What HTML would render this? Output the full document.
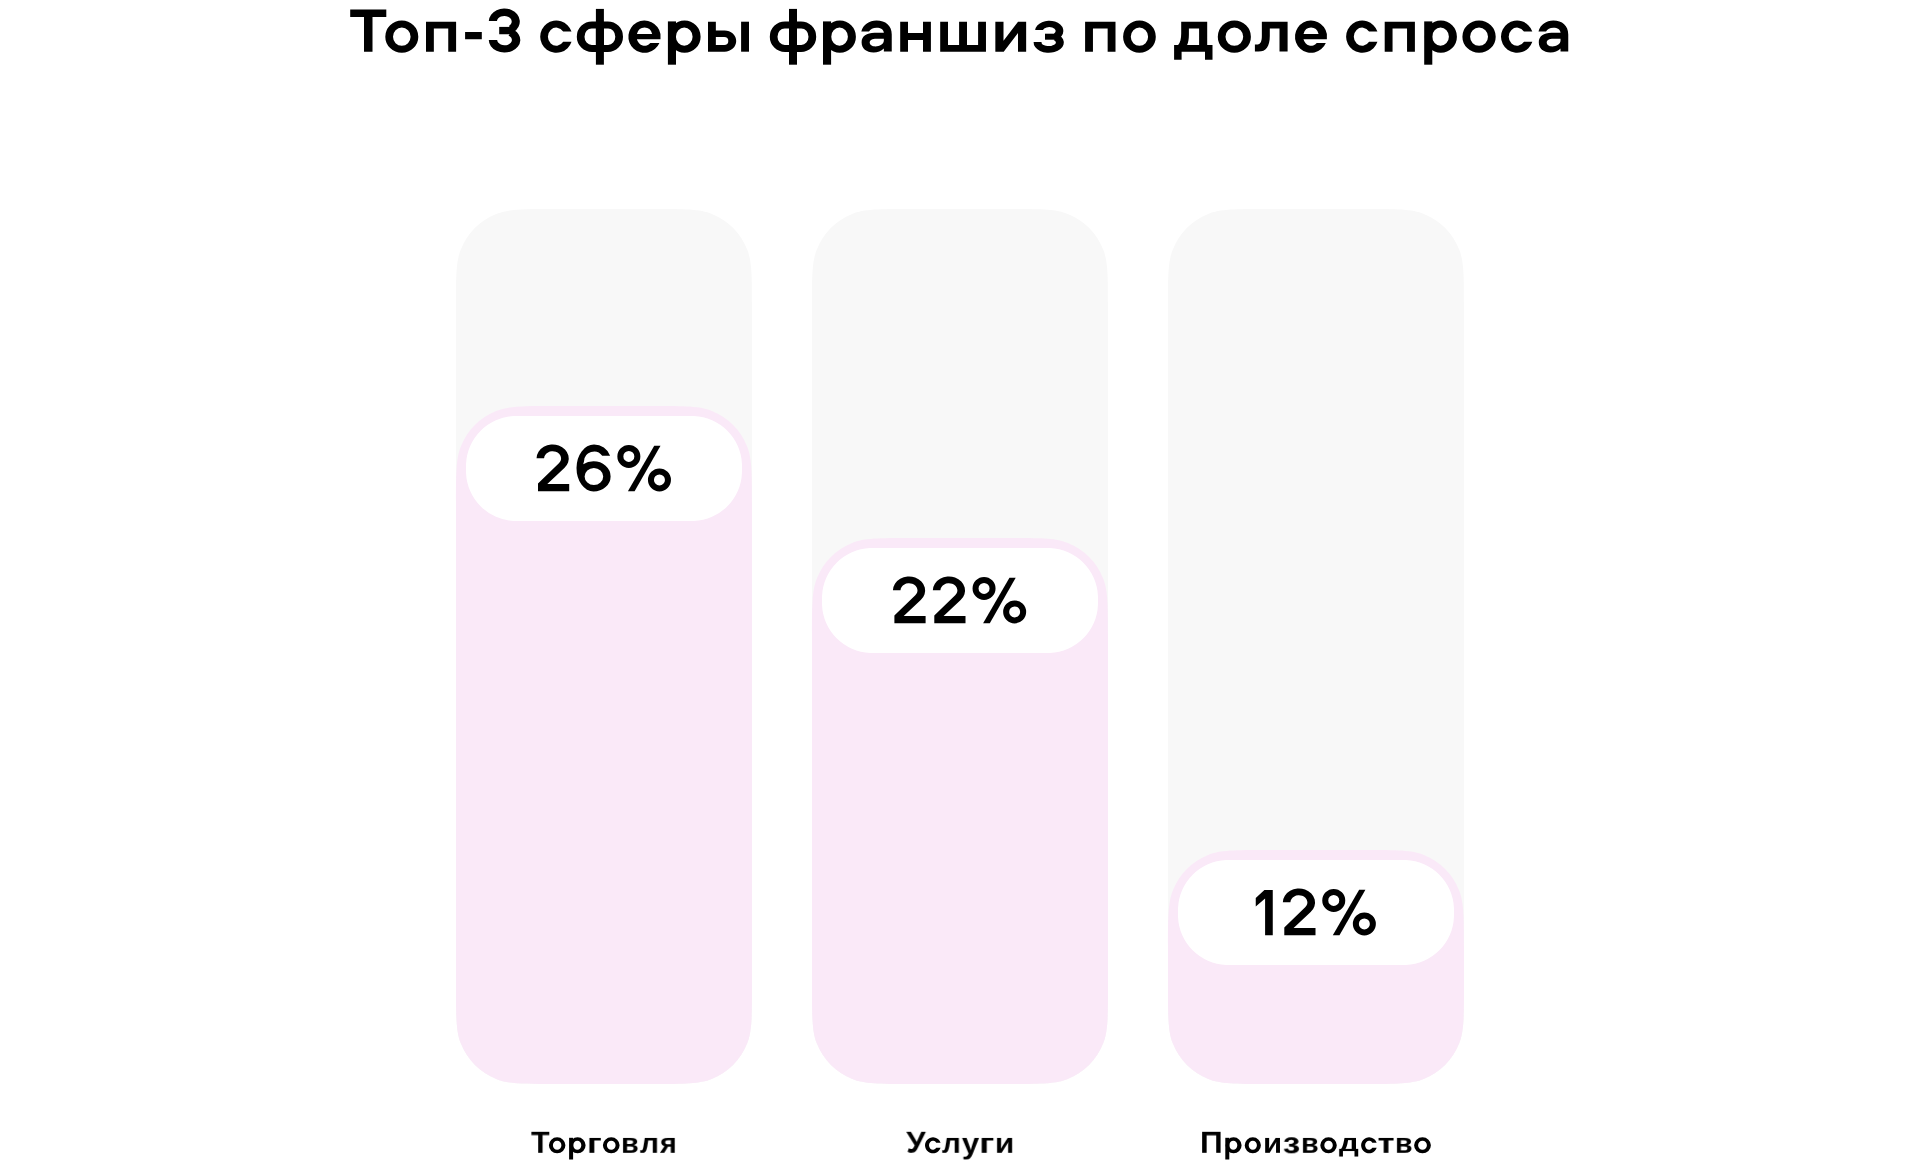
<!DOCTYPE html>
<html lang="ru"><head><meta charset="utf-8"><title>Топ-3 сферы франшиз по доле спроса</title>
<style>
html,body{margin:0;padding:0;background:#fff;}
body{width:1920px;height:1169px;position:relative;overflow:hidden;font-family:"Liberation Sans",sans-serif;color:#000;}
svg{position:absolute;left:0;top:0;}
span{position:absolute;left:0;top:0;white-space:pre;transform-origin:0 0;will-change:transform;font-weight:700;}
.t{font-size:62px;line-height:62px;-webkit-text-stroke:0.7px #fff;}
.l{font-size:30.5px;line-height:30.5px;}
.sr{position:absolute;left:-9999px;top:0;}
</style></head><body>
<svg width="1920" height="1169" viewBox="0 0 1920 1169">
<path d="M654.5 209c30.29 0 45.43 0 57.37 4.95a65 65 0 0 1 35.18 35.18c4.95 11.95 4.95 27.09 4.95 57.37L752 986.5c0 30.29 0 45.43 -4.95 57.37a65 65 0 0 1 -35.18 35.18c-11.95 4.95 -27.09 4.95 -57.37 4.95L553.5 1084c-30.29 0 -45.43 0 -57.37 -4.95a65 65 0 0 1 -35.18 -35.18c-4.95 -11.95 -4.95 -27.09 -4.95 -57.37L456 306.5c0 -30.29 0 -45.43 4.95 -57.37a65 65 0 0 1 35.18 -35.18c11.95 -4.95 27.09 -4.95 57.37 -4.95Z" fill="#f8f8f8"/>
<path d="M654.5 406c30.29 0 45.43 0 57.37 4.95a65 65 0 0 1 35.18 35.18c4.95 11.95 4.95 27.09 4.95 57.37L752 986.5c0 30.29 0 45.43 -4.95 57.37a65 65 0 0 1 -35.18 35.18c-11.95 4.95 -27.09 4.95 -57.37 4.95L553.5 1084c-30.29 0 -45.43 0 -57.37 -4.95a65 65 0 0 1 -35.18 -35.18c-4.95 -11.95 -4.95 -27.09 -4.95 -57.37L456 503.5c0 -30.29 0 -45.43 4.95 -57.37a65 65 0 0 1 35.18 -35.18c11.95 -4.95 27.09 -4.95 57.37 -4.95Z" fill="#fae9f8"/>
<path d="M689.5 416c2.32 0 3.48 0 4.46 0.04a50 50 0 0 1 48 48c0.04 0.98 0.04 2.14 0.04 4.46L742 468.5c0 2.32 0 3.48 -0.04 4.46a50 50 0 0 1 -48 48c-0.98 0.04 -2.14 0.04 -4.46 0.04L518.5 521c-2.32 0 -3.48 0 -4.46 -0.04a50 50 0 0 1 -48 -48c-0.04 -0.98 -0.04 -2.14 -0.04 -4.46L466 468.5c0 -2.32 0 -3.48 0.04 -4.46a50 50 0 0 1 48 -48c0.98 -0.04 2.14 -0.04 4.46 -0.04Z" fill="#fff"/>
<path d="M1010.5 209c30.29 0 45.43 0 57.37 4.95a65 65 0 0 1 35.18 35.18c4.95 11.95 4.95 27.09 4.95 57.37L1108 986.5c0 30.29 0 45.43 -4.95 57.37a65 65 0 0 1 -35.18 35.18c-11.95 4.95 -27.09 4.95 -57.37 4.95L909.5 1084c-30.29 0 -45.43 0 -57.37 -4.95a65 65 0 0 1 -35.18 -35.18c-4.95 -11.95 -4.95 -27.09 -4.95 -57.37L812 306.5c0 -30.29 0 -45.43 4.95 -57.37a65 65 0 0 1 35.18 -35.18c11.95 -4.95 27.09 -4.95 57.37 -4.95Z" fill="#f8f8f8"/>
<path d="M1010.5 538c30.29 0 45.43 0 57.37 4.95a65 65 0 0 1 35.18 35.18c4.95 11.95 4.95 27.09 4.95 57.37L1108 986.5c0 30.29 0 45.43 -4.95 57.37a65 65 0 0 1 -35.18 35.18c-11.95 4.95 -27.09 4.95 -57.37 4.95L909.5 1084c-30.29 0 -45.43 0 -57.37 -4.95a65 65 0 0 1 -35.18 -35.18c-4.95 -11.95 -4.95 -27.09 -4.95 -57.37L812 635.5c0 -30.29 0 -45.43 4.95 -57.37a65 65 0 0 1 35.18 -35.18c11.95 -4.95 27.09 -4.95 57.37 -4.95Z" fill="#fae9f8"/>
<path d="M1045.5 548c2.32 0 3.48 0 4.46 0.04a50 50 0 0 1 48 48c0.04 0.98 0.04 2.14 0.04 4.46L1098 600.5c0 2.32 0 3.48 -0.04 4.46a50 50 0 0 1 -48 48c-0.98 0.04 -2.14 0.04 -4.46 0.04L874.5 653c-2.32 0 -3.48 0 -4.46 -0.04a50 50 0 0 1 -48 -48c-0.04 -0.98 -0.04 -2.14 -0.04 -4.46L822 600.5c0 -2.32 0 -3.48 0.04 -4.46a50 50 0 0 1 48 -48c0.98 -0.04 2.14 -0.04 4.46 -0.04Z" fill="#fff"/>
<path d="M1366.5 209c30.29 0 45.43 0 57.37 4.95a65 65 0 0 1 35.18 35.18c4.95 11.95 4.95 27.09 4.95 57.37L1464 986.5c0 30.29 0 45.43 -4.95 57.37a65 65 0 0 1 -35.18 35.18c-11.95 4.95 -27.09 4.95 -57.37 4.95L1265.5 1084c-30.29 0 -45.43 0 -57.37 -4.95a65 65 0 0 1 -35.18 -35.18c-4.95 -11.95 -4.95 -27.09 -4.95 -57.37L1168 306.5c0 -30.29 0 -45.43 4.95 -57.37a65 65 0 0 1 35.18 -35.18c11.95 -4.95 27.09 -4.95 57.37 -4.95Z" fill="#f8f8f8"/>
<path d="M1366.5 850c30.29 0 45.43 0 57.37 4.95a65 65 0 0 1 35.18 35.18c4.95 11.95 4.95 27.09 4.95 57.37L1464 986.5c0 30.29 0 45.43 -4.95 57.37a65 65 0 0 1 -35.18 35.18c-11.95 4.95 -27.09 4.95 -57.37 4.95L1265.5 1084c-30.29 0 -45.43 0 -57.37 -4.95a65 65 0 0 1 -35.18 -35.18c-4.95 -11.95 -4.95 -27.09 -4.95 -57.37L1168 947.5c0 -30.29 0 -45.43 4.95 -57.37a65 65 0 0 1 35.18 -35.18c11.95 -4.95 27.09 -4.95 57.37 -4.95Z" fill="#fae9f8"/>
<path d="M1401.5 860c2.32 0 3.48 0 4.46 0.04a50 50 0 0 1 48 48c0.04 0.98 0.04 2.14 0.04 4.46L1454 912.5c0 2.32 0 3.48 -0.04 4.46a50 50 0 0 1 -48 48c-0.98 0.04 -2.14 0.04 -4.46 0.04L1230.5 965c-2.32 0 -3.48 0 -4.46 -0.04a50 50 0 0 1 -48 -48c-0.04 -0.98 -0.04 -2.14 -0.04 -4.46L1178 912.5c0 -2.32 0 -3.48 0.04 -4.46a50 50 0 0 1 48 -48c0.98 -0.04 2.14 -0.04 4.46 -0.04Z" fill="#fff"/>
<g fill="#000"><path transform="translate(0 0)" d="M536.55 458.2A16.1 14 0 1 1 564.35 468.07L547.3 483.9L569.2 483.9L569.2 491.2L538 491.2L538 483.6L558.88 463.35A8.5 7.2 0 1 0 544.1 458.2Z"/><path transform="translate(0 0)" fill-rule="evenodd" d="M610.1 455.8A17 17 0 0 0 594 444.5A17.5 23.5 0 0 0 576.5 468A17 23.5 0 0 0 593.5 491.5A17.1 15.1 0 0 0 610.6 476.4A17.1 15.1 0 0 0 593.5 461.3A17.1 15.1 0 0 0 583.2 464.35L584 461.5A10 10 0 0 1 602.2 455.8ZM584.6 476.55A9.3 8.55 0 1 0 603.2 476.55A9.3 8.55 0 1 0 584.6 476.55Z"/><g transform="translate(0 0)"><path fill-rule="evenodd" d="M617.35 456.4A11.5 11.5 0 1 0 640.35 456.4A11.5 11.5 0 1 0 617.35 456.4ZM623.35 456.4A5.5 5.5 0 1 0 634.35 456.4A5.5 5.5 0 1 0 623.35 456.4ZM647.95 479.9A11.5 11.5 0 1 0 670.95 479.9A11.5 11.5 0 1 0 647.95 479.9ZM653.95 479.9A5.5 5.5 0 1 0 664.95 479.9A5.5 5.5 0 1 0 653.95 479.9Z"/><path d="M654.25 445.65L660.5 445.65L634.6 491.2L627.9 491.2Z"/></g><path transform="translate(356.4 132)" d="M536.55 458.2A16.1 14 0 1 1 564.35 468.07L547.3 483.9L569.2 483.9L569.2 491.2L538 491.2L538 483.6L558.88 463.35A8.5 7.2 0 1 0 544.1 458.2Z"/><path transform="translate(396.3 132)" d="M536.55 458.2A16.1 14 0 1 1 564.35 468.07L547.3 483.9L569.2 483.9L569.2 491.2L538 491.2L538 483.6L558.88 463.35A8.5 7.2 0 1 0 544.1 458.2Z"/><g transform="translate(355.2 132)"><path fill-rule="evenodd" d="M617.35 456.4A11.5 11.5 0 1 0 640.35 456.4A11.5 11.5 0 1 0 617.35 456.4ZM623.35 456.4A5.5 5.5 0 1 0 634.35 456.4A5.5 5.5 0 1 0 623.35 456.4ZM647.95 479.9A11.5 11.5 0 1 0 670.95 479.9A11.5 11.5 0 1 0 647.95 479.9ZM653.95 479.9A5.5 5.5 0 1 0 664.95 479.9A5.5 5.5 0 1 0 653.95 479.9Z"/><path d="M654.25 445.65L660.5 445.65L634.6 491.2L627.9 491.2Z"/></g><path transform="translate(0 0)" d="M1264.4 890L1272.76 890L1272.76 935.2L1265.1 935.2L1265.1 898.4L1255.75 906.5L1255.75 898.1Z"/><path transform="translate(746.3 444)" d="M536.55 458.2A16.1 14 0 1 1 564.35 468.07L547.3 483.9L569.2 483.9L569.2 491.2L538 491.2L538 483.6L558.88 463.35A8.5 7.2 0 1 0 544.1 458.2Z"/><g transform="translate(704.9 444)"><path fill-rule="evenodd" d="M617.35 456.4A11.5 11.5 0 1 0 640.35 456.4A11.5 11.5 0 1 0 617.35 456.4ZM623.35 456.4A5.5 5.5 0 1 0 634.35 456.4A5.5 5.5 0 1 0 623.35 456.4ZM647.95 479.9A11.5 11.5 0 1 0 670.95 479.9A11.5 11.5 0 1 0 647.95 479.9ZM653.95 479.9A5.5 5.5 0 1 0 664.95 479.9A5.5 5.5 0 1 0 653.95 479.9Z"/><path d="M654.25 445.65L660.5 445.65L634.6 491.2L627.9 491.2Z"/></g></g>
<g fill="#000"><path fill-rule="evenodd" d="M385.3 36.7A16.5 16.1 0 1 1 418.3 36.7A16.5 16.1 0 1 1 385.3 36.7ZM393 36.7A8.8 9.1 0 1 1 410.6 36.7A8.8 9.1 0 1 1 393 36.7Z"/><path fill-rule="evenodd" d="M1123.1 36.7A16.35 16.1 0 1 1 1155.8 36.7A16.35 16.1 0 1 1 1123.1 36.7ZM1130.8 36.7A8.65 9.1 0 1 1 1148.1 36.7A8.65 9.1 0 1 1 1130.8 36.7Z"/><path fill-rule="evenodd" d="M1217.8 36.7A16.55 16.1 0 1 1 1250.9 36.7A16.55 16.1 0 1 1 1217.8 36.7ZM1225.5 36.7A8.85 9.1 0 1 1 1243.2 36.7A8.85 9.1 0 1 1 1225.5 36.7Z"/><path fill-rule="evenodd" d="M1462.4 36.7A16.65 16.1 0 1 1 1495.7 36.7A16.65 16.1 0 1 1 1462.4 36.7ZM1470.1 36.7A8.95 9.1 0 1 1 1488 36.7A8.95 9.1 0 1 1 1470.1 36.7Z"/><path fill-rule="nonzero" d="M571.51 31.44A16.1 16.1 0 1 0 571.55 41.87L563.21 41.87A8.4 9.1 0 1 1 563.15 31.44Z"/><path fill-rule="nonzero" d="M1377.41 31.44A16.1 16.1 0 1 0 1377.45 41.87L1369.11 41.87A8.4 9.1 0 1 1 1369.05 31.44Z"/><path fill-rule="nonzero" d="M1532.31 31.44A16.1 16.1 0 1 0 1532.35 41.87L1524.01 41.87A8.4 9.1 0 1 1 1523.95 31.44Z"/><path fill-rule="evenodd" d="M660.46 33.93A16.15 16.1 0 1 0 659.41 43.01L650.31 43.01A8 9.1 0 0 1 636.88 39.28L660.49 39.28ZM636.93 33.93A8 9.1 0 0 1 652.17 33.93Z"/><path fill-rule="evenodd" d="M1326.86 33.93A16.05 16.1 0 1 0 1325.82 43.01L1316.74 43.01A7.9 9.1 0 0 1 1303.47 39.28L1326.89 39.28ZM1303.52 33.93A7.9 9.1 0 0 1 1318.58 33.93Z"/><path fill-rule="evenodd" d="M668.5 36.65A16.05 16.05 0 1 1 700.6 36.65A16.05 16.05 0 1 1 668.5 36.65ZM675.9 36.65A8.35 9.05 0 1 1 692.6 36.65A8.35 9.05 0 1 1 675.9 36.65Z"/><path fill-rule="nonzero" d="M667.9 21.4H676V64.7H667.9Z"/><path fill-rule="evenodd" d="M823.8 36.65A16.05 16.05 0 1 1 855.9 36.65A16.05 16.05 0 1 1 823.8 36.65ZM831.2 36.65A8.35 9.05 0 1 1 847.9 36.65A8.35 9.05 0 1 1 831.2 36.65Z"/><path fill-rule="nonzero" d="M823 21.4H831.1V64.7H823Z"/><path fill-rule="evenodd" d="M1424.8 36.65A16.05 16.05 0 1 1 1456.9 36.65A16.05 16.05 0 1 1 1424.8 36.65ZM1432.2 36.65A8.35 9.05 0 1 1 1448.9 36.65A8.35 9.05 0 1 1 1432.2 36.65Z"/><path fill-rule="nonzero" d="M1424.2 21.4H1432.3V64.7H1424.2Z"/><path fill-rule="evenodd" d="M592.05 21.4L607.75 21.4A15.25 15.25 0 0 1 607.75 51.9L592.05 51.9A15.25 15.25 0 0 1 592.05 21.4ZM595.9 28.4L591.7 28.4A7.2 8.25 0 0 0 591.7 44.9L595.9 44.9ZM603.9 28.4L608.1 28.4A7.2 8.25 0 0 1 608.1 44.9L603.9 44.9Z"/><path fill-rule="nonzero" d="M595.9 8.9H603.9V64.7H595.9Z"/><path fill-rule="evenodd" d="M785.05 21.4L800.95 21.4A15.25 15.25 0 0 1 800.95 51.9L785.05 51.9A15.25 15.25 0 0 1 785.05 21.4ZM789 28.4L784.7 28.4A7.2 8.25 0 0 0 784.7 44.9L789 44.9ZM797 28.4L801.3 28.4A7.2 8.25 0 0 1 801.3 44.9L797 44.9Z"/><path fill-rule="nonzero" d="M789 8.9H797V64.7H789Z"/><path fill-rule="evenodd" d="M708 21.7H715.85V30.4H724.59A11.61 10.65 0 0 1 724.59 51.7H708ZM715.85 36.95H724.19A4.11 4.02 0 0 1 724.19 45H715.85Z"/><path fill-rule="nonzero" d="M741.1 21.7H749V51.7H741.1Z"/><path fill-rule="nonzero" d="M1035.15 30.1A14.15 10.3 0 1 1 1059.63 38L1053.98 33.65A6.45 3.9 0 1 0 1042.97 30.1Z"/><path fill-rule="nonzero" d="M1059.06 35A15.1 10.3 0 1 1 1033.61 42.1L1041.54 42.1A7.2 3.6 0 1 0 1053.64 39.88Z"/><path fill-rule="nonzero" d="M1045 33.7H1059V39.7H1045Z"/><path fill-rule="nonzero" d="M488.82 20.9A15.5 13.2 0 1 1 513.84 32L508.86 26.01A7.4 5.6 0 1 0 496.96 20.9Z"/><path fill-rule="nonzero" d="M513.1 29.5A15.75 12.5 0 1 1 488.8 40L497.2 40A7.35 5.3 0 1 0 508.54 35.55Z"/><path fill-rule="nonzero" d="M499.2 26.9H513.5V34.25H499.2Z"/><path fill-rule="nonzero" d="M995.35 21.8H1003.5V40.8L1018 21.8H1026.15V51.7H1018V33.1L1003.7 51.7H995.35Z"/><path fill-rule="nonzero" d="M350.2 9.56H386.3V16.9H350.2ZM364 16.5H372.5V51.8H364ZM465.1 32H481.8V39.3H465.1ZM426 21.65H456.1V28.6H426ZM426 21.65H433.85V51.7H426ZM448.25 21.65H456.1V51.7H448.25ZM1085.1 21.65H1115.5V28.6H1085.1ZM1085.1 21.65H1092.95V51.7H1085.1ZM1107.65 21.65H1115.5V51.7H1107.65ZM1384.7 21.65H1414.9V28.6H1384.7ZM1384.7 21.65H1392.55V51.7H1384.7ZM1407.05 21.65H1414.9V51.7H1407.05ZM900.2 21.8H908V51.7H900.2ZM923 21.8H930.9V51.7H923ZM907.5 33H923.5V40H907.5ZM940.2 21.8H948V51.7H940.2ZM959.1 21.8H967V51.7H959.1ZM978.1 21.8H985.97V51.7H978.1ZM940.2 44.9H985.97V51.7H940.2Z"/><path fill-rule="evenodd" d="M548.9 1145.3A8.25 8 0 1 1 565.4 1145.3A8.25 8 0 1 1 548.9 1145.3ZM552.9 1145.3A4.25 4.5 0 1 1 561.4 1145.3A4.25 4.5 0 1 1 552.9 1145.3Z"/><path fill-rule="evenodd" d="M602.9 1145.3A8.35 8 0 1 1 619.6 1145.3A8.35 8 0 1 1 602.9 1145.3ZM606.9 1145.3A4.35 4.5 0 1 1 615.6 1145.3A4.35 4.5 0 1 1 606.9 1145.3Z"/><path fill-rule="evenodd" d="M1244.7 1145.3A8.1 8 0 1 1 1260.9 1145.3A8.1 8 0 1 1 1244.7 1145.3ZM1248.7 1145.3A4.1 4.5 0 1 1 1256.9 1145.3A4.1 4.5 0 1 1 1248.7 1145.3Z"/><path fill-rule="evenodd" d="M1320.3 1145.3A8.25 8 0 1 1 1336.8 1145.3A8.25 8 0 1 1 1320.3 1145.3ZM1324.3 1145.3A4.25 4.5 0 1 1 1332.8 1145.3A4.25 4.5 0 1 1 1324.3 1145.3Z"/><path fill-rule="evenodd" d="M1414.1 1145.3A8.4 8 0 1 1 1430.9 1145.3A8.4 8 0 1 1 1414.1 1145.3ZM1418.1 1145.3A4.4 4.5 0 1 1 1426.9 1145.3A4.4 4.5 0 1 1 1418.1 1145.3Z"/><path fill-rule="nonzero" d="M940.56 1142.68A8 8 0 1 0 940.58 1147.87L936.28 1147.87A4 4.5 0 1 1 936.25 1142.68Z"/><path fill-rule="nonzero" d="M1376.66 1142.68A8 8 0 1 0 1376.68 1147.87L1372.38 1147.87A4 4.5 0 1 1 1372.35 1142.68Z"/><path fill-rule="evenodd" d="M569.6 1145.3A8 8 0 1 1 585.6 1145.3A8 8 0 1 1 569.6 1145.3ZM573.3 1145.3A4 4.5 0 1 1 581.3 1145.3A4 4.5 0 1 1 573.3 1145.3Z"/><path fill-rule="nonzero" d="M569.1 1137.8H573.1V1159.5H569.1Z"/><path fill-rule="evenodd" d="M1225.6 1145.3A8 8 0 1 1 1241.6 1145.3A8 8 0 1 1 1225.6 1145.3ZM1229.3 1145.3A4 4.5 0 1 1 1237.3 1145.3A4 4.5 0 1 1 1229.3 1145.3Z"/><path fill-rule="nonzero" d="M1225.3 1137.8H1229.3V1159.5H1225.3Z"/><path fill-rule="evenodd" transform="translate(861.1 0) scale(1.0000 1)" d="M0.2 31.5C2.1 24.8 8.1 20.6 15.4 20.6C24.5 20.6 30.65 25.8 30.65 34.5L30.65 51.6L22.75 51.6L22.75 48.6C20.1 51.2 16.5 52.6 12.5 52.6C5.2 52.6 0.5 48.3 0.5 42.3C0.5 36.3 5.5 32.8 13.5 32.8L22.75 32.8C22.6 29.6 19.7 27.7 15.4 27.7C11.9 27.7 9.2 29.2 7.9 31.5ZM22.75 38.65L15.4 38.65C11.1 38.65 8.6 40.2 8.6 42.5C8.6 44.9 10.9 46.4 14.2 46.4C18.5 46.4 22.75 44.2 22.75 40.5Z"/><path fill-rule="evenodd" transform="translate(1538.3 0) scale(0.9772 1)" d="M0.2 31.5C2.1 24.8 8.1 20.6 15.4 20.6C24.5 20.6 30.65 25.8 30.65 34.5L30.65 51.6L22.75 51.6L22.75 48.6C20.1 51.2 16.5 52.6 12.5 52.6C5.2 52.6 0.5 48.3 0.5 42.3C0.5 36.3 5.5 32.8 13.5 32.8L22.75 32.8C22.6 29.6 19.7 27.7 15.4 27.7C11.9 27.7 9.2 29.2 7.9 31.5ZM22.75 38.65L15.4 38.65C11.1 38.65 8.6 40.2 8.6 42.5C8.6 44.9 10.9 46.4 14.2 46.4C18.5 46.4 22.75 44.2 22.75 40.5Z"/><path fill-rule="evenodd" d="M1181.2 21.8H1207.2V45.1H1212.5V59.7H1205V51.8H1181.6V59.7H1174.1V45.1H1178.1C1180.3 42.5 1181.2 38.5 1181.2 33.5ZM1188.9 28.6H1199.1V45.1H1187.1C1188.3 42.5 1188.9 39 1188.9 34.5Z"/><path d="M1261.85 21.65H1287.6V51.6H1279.5V28.4H1269.8V36C1269.8 46.5 1266 51.6 1258.5 51.6H1254.9V44.6H1256.8C1260.3 44.6 1261.85 42 1261.85 36Z"/></g>
</svg>
<h1 class="sr">Топ-3 сферы франшиз по доле спроса</h1>
<div class="sr">Торговля 26%, Услуги 22%, Производство 12%</div>
<span class="l" style="transform:translate(531.06px,1127.92px) scale(0.9964,0.9553)">Т</span>
<span class="l" style="transform:translate(586.88px,1130.00px) scale(1.1667,0.8750)">г</span>
<span class="l" style="transform:translate(620.99px,1130.00px) scale(0.9496,0.8750)">в</span>
<span class="l" style="transform:translate(639.92px,1129.99px) scale(0.9851,0.8755)">л</span>
<span class="l" style="transform:translate(659.92px,1130.00px) scale(0.9459,0.8750)">я</span>
<span class="l" style="transform:translate(906.19px,1127.92px) scale(1.0198,0.9549)">У</span>
<span class="l" style="transform:translate(941.93px,1129.99px) scale(0.9770,0.8755)">л</span>
<span class="l" style="transform:translate(961.79px,1129.72px) scale(1.0243,0.9052)">у</span>
<span class="l" style="transform:translate(979.14px,1130.00px) scale(1.1958,0.8750)">г</span>
<span class="l" style="transform:translate(994.82px,1130.00px) scale(1.0357,0.8750)">и</span>
<span class="l" style="transform:translate(1199.97px,1127.93px) scale(1.0364,0.9551)">П</span>
<span class="l" style="transform:translate(1262.94px,1130.00px) scale(1.0204,0.8750)">и</span>
<span class="l" style="transform:translate(1282.79px,1128.73px) scale(1.1476,0.9446)">з</span>
<span class="l" style="transform:translate(1300.95px,1130.00px) scale(0.9490,0.8750)">в</span>
<span class="l" style="transform:translate(1338.95px,1130.76px) scale(1.0226,0.7835)">д</span>
<span class="l" style="transform:translate(1377.56px,1130.00px) scale(1.1370,0.8750)">т</span>
<span class="l" style="transform:translate(1394.92px,1130.00px) scale(0.9391,0.8750)">в</span>
</body></html>
